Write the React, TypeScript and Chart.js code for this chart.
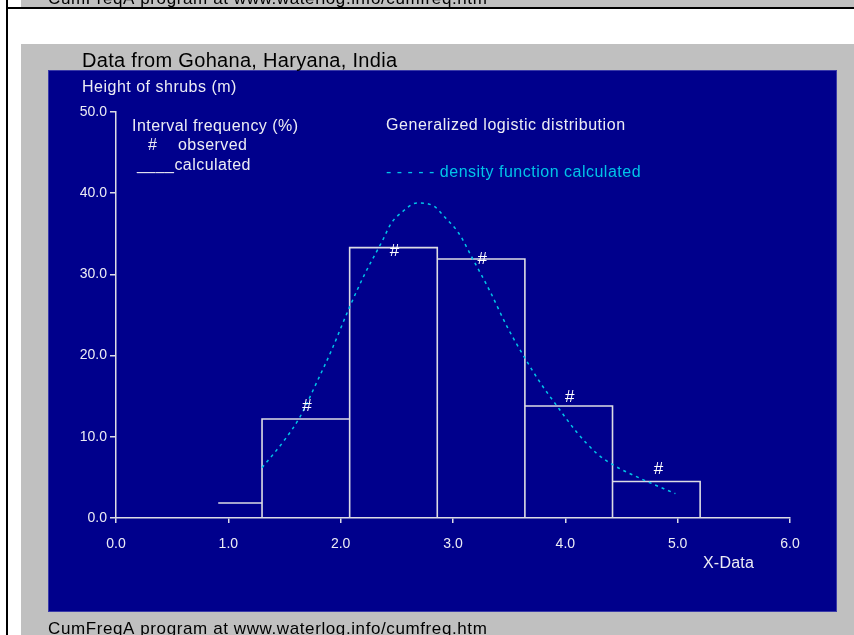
import React, { useEffect, useRef } from "react";
import { Chart, registerables } from "chart.js";

Chart.register(...registerables);

// ---- data ----
const binEdges = [0.91, 1.3, 2.08, 2.86, 3.64, 4.42, 5.2];
const calcFreq = [1.85, 12.2, 33.3, 31.9, 13.8, 4.5];
const obsX = [1.7, 2.48, 3.26, 4.04, 4.83];
const obsFreq = [13.8, 32.9, 31.9, 14.9, 6.0];
const curveX = [1.3, 1.5, 1.64, 1.79, 1.92, 2.08, 2.22, 2.37, 2.45, 2.54, 2.68, 2.83, 2.93, 3.05, 3.18, 3.33, 3.48, 3.64, 3.78, 3.92, 4.1, 4.28, 4.43, 4.67, 4.98];
const curveY = [6.2, 9.6, 12.5, 16.8, 20.7, 26.0, 30.2, 34.1, 36.3, 37.6, 38.8, 38.4, 37.0, 35.1, 31.8, 27.9, 23.6, 19.7, 16.6, 13.9, 10.6, 7.95, 6.5, 4.86, 3.0];
const xTickLabels = ["0.0", "1.0", "2.0", "3.0", "4.0", "5.0", "6.0"];
const yTickLabels = ["0.0", "10.0", "20.0", "30.0", "40.0", "50.0"];

const FONT = "'Liberation Sans', Arial, sans-serif";
const NAVY = "#00008c";
const GRAY = "#c0c0c0";
const TEXT = "#ececf4";
const LINE = "#dcdce4";
const CYAN = "#00c4e8";

function buildHistogram() {
  const pts: { x: number; y: number | null }[] = [];
  pts.push({ x: binEdges[0], y: calcFreq[0] });
  pts.push({ x: binEdges[1], y: calcFreq[0] });
  pts.push({ x: binEdges[1], y: null });
  for (let i = 1; i < calcFreq.length; i++) {
    const l = binEdges[i];
    const r = binEdges[i + 1];
    const h = calcFreq[i];
    pts.push({ x: l, y: 0 }, { x: l, y: h }, { x: r, y: h }, { x: r, y: 0 }, { x: r, y: null });
  }
  return pts;
}

function txt(ctx: any, s: string, x: number, y: number, size: number, ls: number) {
  ctx.font = `${size}px ${FONT}`;
  ctx.letterSpacing = `${ls}px`;
  ctx.fillText(s, x, y);
}

const backgroundPlugin = {
  id: "bgPanels",
  beforeDraw(chart: any) {
    const ctx = chart.ctx;
    ctx.save();
    ctx.fillStyle = "#ffffff";
    ctx.fillRect(0, 0, 854, 635);
    // upper (previous) panel strip
    ctx.fillStyle = GRAY;
    ctx.fillRect(21, 0, 833, 7);
    ctx.fillStyle = "#000";
    ctx.textBaseline = "alphabetic";
    ctx.textAlign = "left";
    txt(ctx, "CumFreqA program at www.waterlog.info/cumfreq.htm", 48, 4, 17, 0.6);
    // frame lines
    ctx.fillStyle = "#000";
    ctx.fillRect(6, 7, 848, 2);
    ctx.fillRect(6, 0, 2, 635);
    // main gray panel
    ctx.fillStyle = GRAY;
    ctx.fillRect(21, 44, 833, 591);
    // navy plot area
    ctx.fillStyle = NAVY;
    ctx.fillRect(48, 70, 789, 542);
    ctx.strokeStyle = "#3a3aa8";
    ctx.lineWidth = 1;
    ctx.strokeRect(48.5, 70.5, 788, 541);
    ctx.restore();
  },
};

const textPlugin = {
  id: "texts",
  afterDatasetsDraw(chart: any) {
    const ctx = chart.ctx;
    ctx.save();
    chart.data.datasets.forEach((ds: any, i: number) => {
      if (ds.label !== "observed") return;
      const meta = chart.getDatasetMeta(i);
      ctx.fillStyle = "#ffffff";
      ctx.font = `17px ${FONT}`;
      ctx.textAlign = "center";
      ctx.textBaseline = "middle";
      meta.data.forEach((el: any) => ctx.fillText("#", el.x, el.y));
    });
    ctx.restore();
  },
  afterDraw(chart: any) {
    const ctx = chart.ctx;
    ctx.save();
    ctx.textAlign = "left";
    ctx.textBaseline = "middle";
    ctx.fillStyle = "#000";
    txt(ctx, "Data from Gohana, Haryana, India", 82, 61, 20, 0.3);
    ctx.textBaseline = "alphabetic";
    txt(ctx, "CumFreqA program at www.waterlog.info/cumfreq.htm", 48, 634, 17, 0.6);
    ctx.textBaseline = "middle";
    ctx.fillStyle = TEXT;
    txt(ctx, "Height of shrubs (m)", 82, 87.5, 16, 0.5);
    txt(ctx, "Interval frequency (%)", 132, 126.5, 16, 0.45);
    txt(ctx, "#", 148, 145.5, 16, 0.45);
    txt(ctx, "observed", 178, 145.5, 16, 0.45);
    txt(ctx, "____calculated", 137, 165.5, 16, 0.45);
    txt(ctx, "Generalized logistic distribution", 386, 125.5, 16, 0.55);
    txt(ctx, "X-Data", 703, 563.5, 16, 0.2);
    ctx.fillStyle = CYAN;
    txt(ctx, "- - - - - density function calculated", 386, 172.5, 16, 0.5);
    ctx.restore();
  },
};

export default function App() {
  const ref = useRef<HTMLCanvasElement>(null);
  useEffect(() => {
    if (!ref.current) return;
    const chart = new Chart(ref.current, {
      type: "line",
      data: {
        datasets: [
          {
            label: "calculated",
            data: buildHistogram(),
            borderColor: LINE,
            borderWidth: 1.6,
            pointRadius: 0,
            spanGaps: false,
            tension: 0,
            order: 3,
          },
          {
            label: "density",
            data: curveX.map((x, i) => ({ x, y: curveY[i] })),
            borderColor: CYAN,
            borderWidth: 1.5,
            borderDash: [3, 4],
            pointRadius: 0,
            cubicInterpolationMode: "monotone",
            order: 2,
          },
          {
            label: "observed",
            data: obsX.map((x, i) => ({ x, y: obsFreq[i] })),
            showLine: false,
            pointRadius: 0,
            order: 1,
          },
        ],
      },
      options: {
        responsive: false,
        animation: false,
        layout: { padding: { left: 0, top: 112, right: 64, bottom: 87 } },
        plugins: { legend: { display: false }, tooltip: { enabled: false }, title: { display: false } },
        scales: {
          x: {
            type: "linear",
            min: 0,
            max: 6,
            afterFit: (s: any) => {
              s.height = 30;
            },
            ticks: {
              stepSize: 1,
              color: TEXT,
              font: { size: 14, family: FONT },
              padding: 13,
              maxRotation: 0,
              callback: (v: any) => xTickLabels[Math.round(Number(v))] ?? "",
            },
            grid: { drawOnChartArea: false, drawTicks: true, tickLength: 5, color: LINE, lineWidth: 1.5 },
            border: { display: true, color: LINE, width: 1.5 },
          },
          y: {
            type: "linear",
            min: 0,
            max: 50,
            afterFit: (s: any) => {
              s.width = 116;
            },
            ticks: {
              stepSize: 10,
              color: TEXT,
              font: { size: 14, family: FONT },
              padding: 3,
              callback: (v: any) => yTickLabels[Math.round(Number(v) / 10)] ?? "",
            },
            grid: { drawOnChartArea: false, drawTicks: true, tickLength: 6, color: LINE, lineWidth: 1.5 },
            border: { display: true, color: LINE, width: 1.5 },
          },
        },
      },
      plugins: [backgroundPlugin, textPlugin],
    });
    return () => chart.destroy();
  }, []);
  return (
    <div style={{ position: "absolute", left: 0, top: 0, width: 854, height: 635, overflow: "hidden" }}>
      <canvas ref={ref} width={854} height={635} style={{ display: "block" }} />
    </div>
  );
}
